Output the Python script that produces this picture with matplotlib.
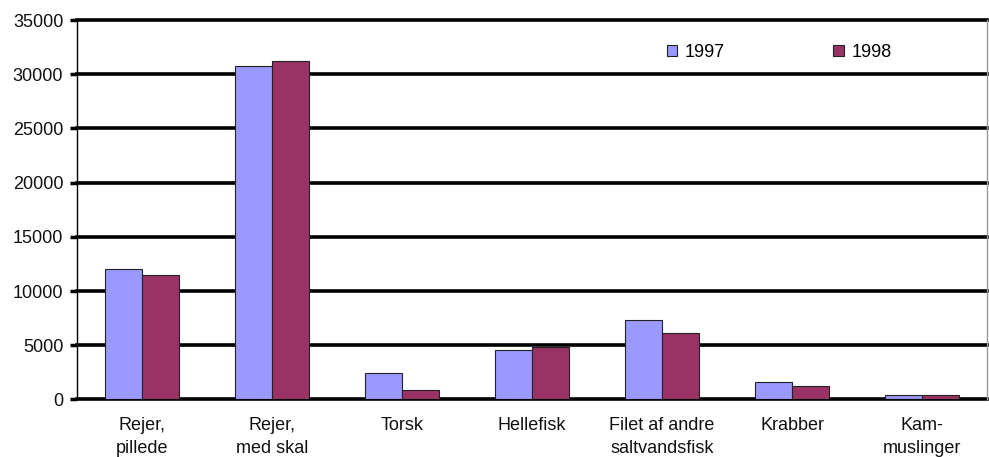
import numpy as np
import matplotlib.pyplot as plt

kategorier = ['Rejer,\npillede', 'Rejer,\nmed skal', 'Torsk', 'Hellefisk',
              'Filet af andre\nsaltvandsfisk', 'Krabber', 'Kam-\nmuslinger']
v1997 = [12000, 30750, 2400, 4600, 7300, 1650, 420]
v1998 = [11500, 31200, 900, 4800, 6100, 1200, 420]
yticks = [0, 5000, 10000, 15000, 20000, 25000, 30000, 35000]

plt.rcParams['font.family'] = ['Liberation Sans', 'DejaVu Sans']

fig = plt.figure(figsize=(9.89, 4.57), dpi=100)
ax = fig.add_axes([0.078, 0.126, 0.92, 0.83])

x = np.arange(len(kategorier))
w = 0.285
ax.bar(x - w/2, v1997, w, color='#9999FF', edgecolor='#222222', linewidth=0.8,
       label='1997', zorder=3)
ax.bar(x + w/2, v1998, w, color='#993366', edgecolor='#222222', linewidth=0.8,
       label='1998', zorder=3)

ax.set_xlim(-0.5, len(kategorier) - 0.5)
ax.set_ylim(0, 35000)
ax.set_yticks(yticks)
ax.set_yticklabels([str(t) for t in yticks], fontsize=13, color='#111111')
ax.set_xticks(x)
ax.set_xticklabels(kategorier, fontsize=13, color='#111111', linespacing=1.4)
ax.tick_params(axis='x', length=0, pad=13)
ax.tick_params(axis='y', length=5, width=2.5, pad=5)

for t in yticks:
    ax.axhline(t, color='black', linewidth=2.6, zorder=2, clip_on=False)

ax.spines['left'].set_linewidth(1.0)
ax.spines['right'].set_color('#999999')
ax.spines['right'].set_linewidth(1.0)
ax.spines['top'].set_visible(False)
ax.spines['bottom'].set_visible(False)

ax.legend(loc='upper left', bbox_to_anchor=(0.63, 0.98), ncol=2, frameon=False,
          fontsize=13, handlelength=0.6, handleheight=0.6, handletextpad=0.4,
          columnspacing=6.0)

fig.savefig('out.png', dpi=100)
